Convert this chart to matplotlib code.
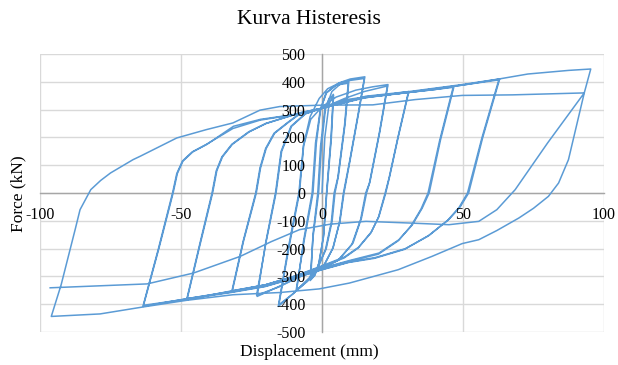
import matplotlib
matplotlib.use("Agg")
import matplotlib.pyplot as plt
import numpy as np

plt.rcParams["font.family"] = ["Liberation Serif", "DejaVu Serif"]
plt.rcParams["axes.unicode_minus"] = False

# displacement (mm) / force (kN) history, grouped by target amplitude
disp_04 = [0, 1.0, 2.5, 4.0, 3.2, 1.6, 0.6, -1.0, -2.5, -4.0,
           -3.2, -1.5, -0.5, 1.0, 2.5, 4.1, 3.3, 1.7, 0.5, -1.2, -2.7, -4.2]
force_04 = [0, 200, 320, 355, 200, 0, -150, -250, -295, -310,
            -150, 0, 170, 300, 340, 352, 195, 0, -160, -255, -298, -315]

disp_09 = [-3.2, -1.2, -0.2, 1.2, 3.5, 6.5, 9.5,
           8.2, 5.8, 4.6, 3.6, 1.5, -1.5, -5.0, -9.0,
           -6.5, -3.5, -2.3, -0.6, 1.6, 5.0, 9.3,
           8.0, 5.6, 4.3, 3.3, 1.2, -1.8, -5.2, -9.2]
force_09 = [-160, 0, 170, 300, 365, 392, 400,
            250, 60, 0, -100, -200, -270, -315, -350,
            -170, 0, 180, 300, 360, 388, 395,
            245, 55, 0, -105, -205, -272, -318, -352]

disp_15 = [-6.3, -3.2, -2.0, -0.5, 1.4, 6.0, 10.0, 15.2,
           13.2, 10.0, 7.8, 6.4, 4.0, 1.0, -4.0, -10.0, -15.5,
           -12.0, -8.2, -6.6, -4.2, -1.0, 2.0, 6.0, 10.0, 15.0,
           13.0, 9.8, 7.6, 6.2, 3.8, 0.8, -4.2, -10.2, -15.3]
force_15 = [-170, 0, 180, 300, 360, 396, 410, 418,
            300, 120, 0, -100, -195, -255, -300, -360, -408,
            -200, 0, 170, 275, 340, 375, 395, 405, 412,
            295, 115, 0, -105, -200, -258, -305, -362, -402]

disp_23 = [-11.8, -8.0, -6.5, -4.0, 0.0, 5.0, 12.0, 18.0, 23.4,
           20.5, 17.0, 15.8, 14.0, 11.0, 6.0, 0.0, -8.0, -15.0, -23.0,
           -20.0, -16.5, -14.5, -11.0, -6.0, 0.0, 8.0, 15.0, 23.2,
           20.3, 16.8, 15.5, 13.7, 10.6, 5.6, -0.3, -8.3, -15.3, -23.2]
force_23 = [-200, 0, 170, 265, 310, 345, 370, 382, 390,
            220, 40, 0, -90, -180, -240, -270, -300, -335, -372,
            -180, 0, 150, 240, 285, 305, 340, 365, 385,
            215, 35, 0, -95, -185, -243, -273, -303, -338, -368]

disp_31 = [-19.8, -16.3, -14.3, -10.8, -5.8, 0.0, 8.0, 15.0, 22.0, 30.8,
           27.0, 24.0, 22.6, 20.2, 17.5, 13.0, 8.0, 0.0, -10.0, -20.0, -32.0,
           -28.0, -23.5, -22.0, -20.0, -17.0, -12.0, -8.0, 0.0, 8.0, 15.5, 22.0, 30.6,
           26.8, 23.8, 22.4, 20.0, 17.3, 12.8, 7.8, -0.2, -10.2, -20.2, -31.8]
force_31 = [-175, 0, 150, 240, 285, 305, 335, 345, 352, 365,
            200, 60, 0, -84, -140, -195, -230, -262, -300, -330, -355,
            -175, 0, 90, 160, 215, 255, 285, 305, 330, 343, 352, 362,
            195, 55, 0, -88, -144, -198, -234, -265, -302, -331, -352]

disp_47 = [-27.8, -23.3, -21.8, -19.8, -16.8, -11.8, -7.8, 0.0, 15.5, 31.0, 40.0, 46.8,
           42.0, 38.0, 35.5, 32.0, 27.3, 20.2, 9.7, 0.0, -8.0, -20.0, -32.0, -48.0,
           -43.5, -39.0, -37.5, -35.5, -32.0, -26.0, -20.0, -8.0, 0.0, 15.5, 31.0, 46.5,
           41.7, 37.6, 35.1, 31.6, 27.0, 20.0, 9.5, -0.2, -8.2, -20.2, -32.2, -47.8]
force_47 = [-172, 0, 90, 160, 215, 255, 285, 305, 343, 362, 372, 383,
            190, 0, -55, -115, -168, -216, -243, -270, -294, -330, -352, -384,
            -190, 0, 80, 130, 175, 220, 250, 288, 305, 345, 362, 380,
            188, 0, -58, -118, -172, -220, -246, -272, -296, -332, -354, -380]

disp_63 = [-43.3, -38.8, -37.3, -35.3, -31.8, -25.8, -19.8, -7.8, 0.0, 15.5, 31.0, 49.7, 63.0,
           57.0, 52.0, 49.0, 45.0, 38.0, 29.6, 19.0, 9.7, 0.0, -8.0, -20.0, -32.0, -48.0, -63.5,
           -58.0, -53.0, -51.5, -49.5, -46.0, -41.0, -31.6, -22.0, -8.0, 0.0, 15.5, 31.0, 49.7, 62.7,
           56.7, 51.6, 48.6, 44.6, 37.6, 29.2, 18.6, 9.4, -0.3, -8.3, -20.3, -32.3, -48.3, -63.3]
force_63 = [-188, 0, 80, 130, 175, 220, 250, 288, 305, 345, 362, 388, 410,
            200, 0, -50, -95, -152, -200, -232, -248, -275, -300, -335, -356, -380, -408,
            -200, 0, 70, 115, 148, 175, 232, 262, 285, 305, 346, 363, 388, 407,
            198, 0, -52, -98, -155, -203, -235, -250, -277, -302, -337, -358, -382, -404]

disp_95 = [-57.8, -52.8, -51.3, -49.3, -45.8, -40.8, -31.4, -21.8, -7.8, 0.0, 15.5, 31.0, 49.7, 62.7, 73.0, 87.4, 95.3,
           93.0, 87.4, 83.9, 80.3, 75.0, 69.8, 62.0, 55.6, 49.7, 39.0, 27.0, 9.7, -1.0, -15.0, -31.6, -48.0, -63.5, -78.7, -96.0,
           -92.5, -90.0, -87.5, -85.8, -82.0, -78.5, -75.0, -67.0, -64.5, -58.0, -51.5, -41.0, -31.6, -22.0, -15.0, 0.0, 18.0, 33.0, 49.7, 67.5, 93.0,
           80.0, 68.5, 62.0, 55.6, 45.0, 31.0, 15.6, 3.0, -8.0, -18.0, -29.0, -45.6, -62.0, -96.4]
force_95 = [-198, 0, 70, 115, 148, 175, 240, 265, 285, 305, 348, 365, 390, 410, 428, 441, 446,
            360, 120, 36, -12, -55, -90, -135, -168, -182, -228, -276, -324, -345, -358, -366, -386, -410, -435, -444,
            -330, -230, -130, -60, 12, 45, 72, 120, 132, 165, 198, 228, 252, 298, 311, 316, 317, 336, 351, 353, 360,
            180, 12, -60, -102, -114, -108, -102, -112, -132, -175, -228, -288, -327, -341]

disp = np.concatenate([disp_04, disp_09, disp_15, disp_23, disp_31, disp_47, disp_63, disp_95])
force = np.concatenate([force_04, force_09, force_15, force_23, force_31, force_47, force_63, force_95])

x_ticks = [-100, -50, 0, 50, 100]
y_ticks = list(range(-500, 501, 100))

fig = plt.figure(figsize=(6.18, 3.65), dpi=100)
ax = fig.add_axes([40 / 618, 1 - 332 / 365, 564 / 618, 278 / 365])

grid_c = "#D9D9D9"
for xv in x_ticks:
    ax.axvline(xv, color=grid_c, lw=1.0, zorder=0)
for yv in y_ticks:
    ax.axhline(yv, color=grid_c, lw=1.0, zorder=0)

ax.plot(disp, force, color="#5B9BD5", lw=1.1, zorder=2)

ax.set_xlim(-100, 100)
ax.set_ylim(-500, 500)
ax.set_xticks(x_ticks)
ax.set_yticks(y_ticks)

# axes cross at the origin, Excel style
for side in ("top", "right"):
    ax.spines[side].set_visible(False)
ax.spines["left"].set_position(("data", 0))
ax.spines["bottom"].set_position(("data", 0))
for side in ("left", "bottom"):
    ax.spines[side].set_color("#A6A6A6")
    ax.spines[side].set_linewidth(1.0)
    ax.spines[side].set_zorder(1)
ax.xaxis.set_zorder(3)
ax.yaxis.set_zorder(3)
ax.tick_params(axis="both", length=0, labelsize=11.5, colors="black")
ax.tick_params(axis="y", pad=12)
ax.tick_params(axis="x", pad=10)

fig.text(0.5, 1 - 19 / 365, "Kurva Histeresis", ha="center", va="center", fontsize=15.5)
fig.text(0.5, 1 - 352 / 365, "Displacement (mm)", ha="center", va="center", fontsize=12.5)
fig.text(18 / 618, 1 - 194 / 365, "Force (kN)", ha="center", va="center",
         rotation=90, fontsize=12.5)

fig.savefig("out.png", dpi=100)
